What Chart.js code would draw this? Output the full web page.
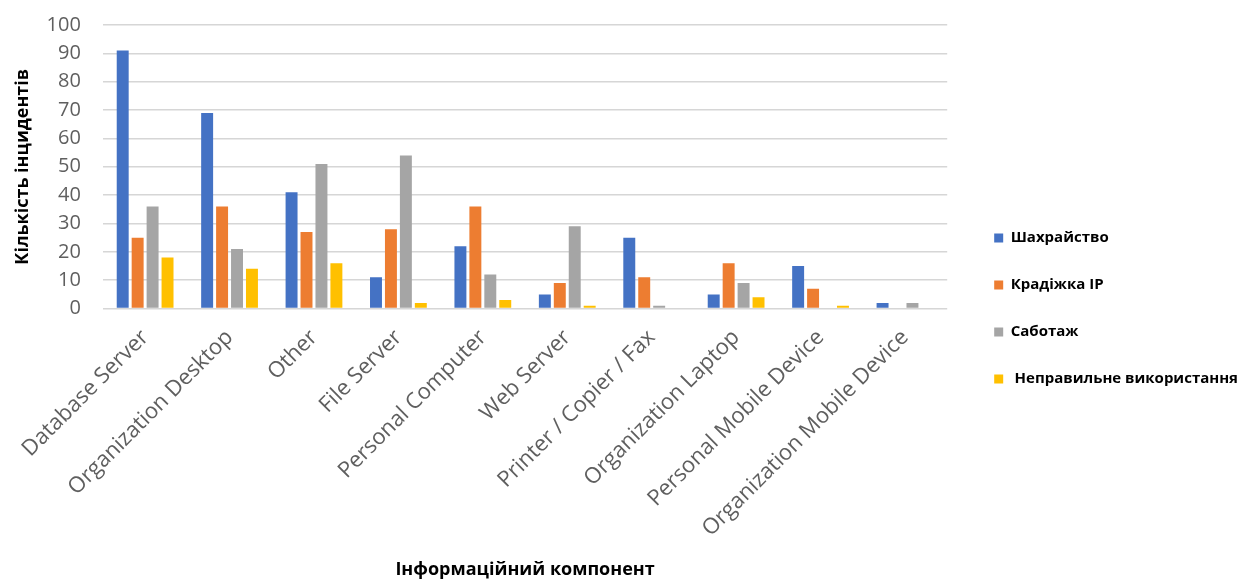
<!DOCTYPE html>
<html lang="uk">
<head>
<meta charset="utf-8">
<title>Інциденти за інформаційним компонентом</title>
<script src="https://cdn.jsdelivr.net/npm/chart.js@4.4.1/dist/chart.umd.min.js"></script>
<style>
  html, body { margin: 0; padding: 0; background: #fff; }
  #wrap { width: 1240px; height: 579px; }
</style>
</head>
<body>
<div id="wrap"><canvas id="incChart" width="1240" height="579"></canvas></div>
<script>
// ==================== DATA ====================
const components = [
  'Database Server', 'Organization Desktop', 'Other', 'File Server', 'Personal Computer',
  'Web Server', 'Printer / Copier / Fax', 'Organization Laptop', 'Personal Mobile Device',
  'Organization Mobile Device'
];
const fraud    = [91, 69, 41, 11, 22, 5, 25, 5, 15, 2];
const ipTheft  = [25, 36, 27, 28, 36, 9, 11, 16, 7, 0];
const sabotage = [36, 21, 51, 54, 12, 29, 1, 9, 0, 2];
const misuse   = [18, 14, 16, 2, 3, 1, 0, 4, 1, 0];
const seriesNames = ['Шахрайство', 'Крадіжка IP', 'Саботаж', ' Неправильне використання'];
const yTicks = [0, 10, 20, 30, 40, 50, 60, 70, 80, 90, 100];

const COLORS = ['#4472C4', '#ED7D31', '#A5A5A5', '#FFC000'];
const FONT = "'Open Sans', 'DejaVu Sans', sans-serif";

function ds(label, data, i) {
  return {
    label, data,
    backgroundColor: COLORS[i],
    borderWidth: 0,
    categoryPercentage: 0.708,
    barPercentage: 0.8
  };
}

new Chart(document.getElementById('incChart'), {
  type: 'bar',
  data: {
    labels: components,
    datasets: [fraud, ipTheft, sabotage, misuse].map((d, i) => ds(seriesNames[i], d, i))
  },
  options: {
    responsive: false,
    animation: false,
    layout: { padding: { left: 8, top: 25, right: -8, bottom: 0 } },
    scales: {
      x: {
        grid: { display: false },
        border: { display: false },
        ticks: {
          autoSkip: false, minRotation: 45, maxRotation: 45, padding: 8,
          color: '#5f5f5f', font: { family: FONT, size: 22 }
        },
        title: {
          display: true, text: 'Інформаційний компонент', color: '#000',
          font: { family: FONT, size: 18, weight: 'bold', lineHeight: 1 },
          padding: { top: 11, bottom: 0 }
        }
      },
      y: {
        min: 0, max: 100,
        afterBuildTicks: s => { s.ticks = yTicks.map(v => ({ value: v })); },
        // transparent tick marks keep the labels away from the plot
        grid: { color: '#d6d6d6', lineWidth: 1.6, drawTicks: true, tickLength: 19, tickColor: 'rgba(0,0,0,0)' },
        border: { display: false },
        ticks: { padding: 3, color: '#5f5f5f', font: { family: FONT, size: 20 } },
        title: {
          display: true, text: 'Кількість інцидентів', color: '#000',
          font: { family: FONT, size: 18, weight: 'bold' },
          padding: { top: 4, bottom: 10 }
        }
      },
      // hidden spacer between the plot and the legend
      gap: {
        type: 'linear', position: 'right', display: false,
        afterFit: s => { s.width = 15; }
      }
    },
    plugins: {
      tooltip: { enabled: false },
      legend: {
        position: 'right',
        align: 'center',
        title: { display: true, text: '', padding: 0, font: { size: 10.8 } },
        labels: {
          boxWidth: 9, boxHeight: 9, padding: 32, color: '#000',
          font: { family: FONT, size: 15, weight: 'bold' }
        }
      }
    }
  }
});
</script>
</body>
</html>
